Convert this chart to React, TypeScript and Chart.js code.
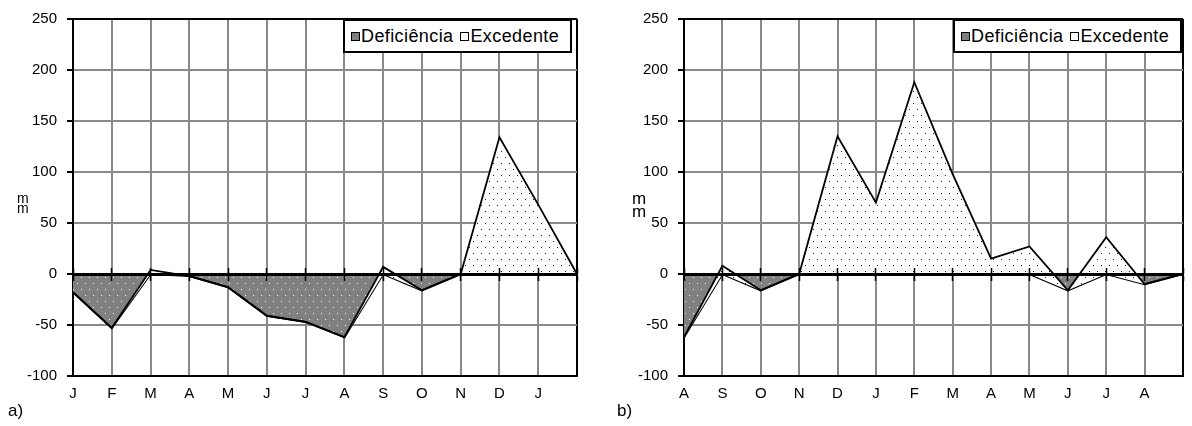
import React, { useEffect, useRef } from 'react';
import { Chart, registerables } from 'chart.js';

Chart.register(...registerables);

// Panel a) — calendar year
const monthsA = ['J', 'F', 'M', 'A', 'M', 'J', 'J', 'A', 'S', 'O', 'N', 'D', 'J', ''];
const deficitA = [-18, -53, 0, -2, -13, -41, -47, -62, 0, -16, 0, 0, 0, 0];
const surplusA = [0, 0, 4, 0, 0, 0, 0, 0, 7, 0, 0, 134, 68, 0];

// Panel b) — hydrological year
const monthsB = ['A', 'S', 'O', 'N', 'D', 'J', 'F', 'M', 'A', 'M', 'J', 'J', 'A', ''];
const deficitB = [-62, 0, -16, 0, 0, 0, 0, 0, 0, 0, -16, 0, -10, 0];
const surplusB = [0, 8, 0, 0, 135, 70, 188, 98, 15, 27, 0, 36, 0, 0];

const yMin = -100;
const yMax = 250;
const yStep = 50;

const seriesNames = ['Deficiência', 'Excedente'];

const FONT = "'Liberation Sans', Arial, Helvetica, sans-serif";
const GRID = '#8a8a8a';

function dotPattern(bg: string, dot: string): CanvasPattern | string {
  const c = document.createElement('canvas');
  c.width = 8;
  c.height = 12;
  const g = c.getContext('2d');
  if (!g) return bg;
  g.fillStyle = bg;
  g.fillRect(0, 0, 8, 12);
  g.fillStyle = dot;
  g.fillRect(1, 1, 1, 1);
  g.fillRect(5, 7, 1, 1);
  const p = g.createPattern(c, 'repeat');
  return p || bg;
}

type PanelProps = {
  left: number;
  labels: string[];
  deficit: number[];
  surplus: number[];
  axisWidth: number;
  rightPad: number;
};

function Panel({ left, labels, deficit, surplus, axisWidth, rightPad }: PanelProps) {
  const ref = useRef<HTMLCanvasElement | null>(null);

  useEffect(() => {
    const canvas = ref.current;
    if (!canvas) return;
    const last = labels.length - 1;
    // surplus is drawn stacked on top of the deficit curve (area chart style)
    const surplusTop = surplus.map((v, i) => v + deficit[i]);
    const chart = new Chart(canvas, {
      type: 'line',
      data: {
        labels,
        datasets: [
          {
            label: seriesNames[0],
            data: deficit,
            fill: 'origin',
            backgroundColor: dotPattern('#808080', '#ffffff') as any,
            borderColor: '#000',
            borderWidth: 2,
            pointRadius: 0,
            tension: 0,
            order: 1,
          },
          {
            label: seriesNames[1],
            data: surplusTop,
            fill: '-1',
            backgroundColor: dotPattern('#ffffff', '#1a1a1a') as any,
            borderColor: '#000',
            borderWidth: 1.8,
            pointRadius: 0,
            tension: 0,
            order: 0,
          },
        ],
      },
      options: {
        animation: false,
        responsive: false,
        maintainAspectRatio: false,
        layout: { padding: { top: 16, right: rightPad, left: 0, bottom: 0 } },
        plugins: { legend: { display: false }, tooltip: { enabled: false } },
        scales: {
          x: {
            type: 'category',
            axis: 'x',
            position: 'bottom',
            grid: {
              color: (c: any) => (c.index === last ? '#000' : GRID),
              lineWidth: 2,
              drawTicks: false,
            },
            border: { color: '#000', width: 2 },
            ticks: {
              autoSkip: false,
              maxRotation: 0,
              minRotation: 0,
              padding: 9,
              color: '#000',
              font: { family: FONT, size: 15 },
            },
            afterFit: (s: any) => {
              s.height = 50;
            },
          },
          y: {
            type: 'linear',
            axis: 'y',
            position: 'left',
            min: yMin,
            max: yMax,
            ticks: {
              stepSize: yStep,
              padding: 10,
              color: '#000',
              font: { family: FONT, size: 15 },
            },
            grid: {
              color: (c: any) => (c.tick && (c.tick.value === yMax || c.tick.value === yMin) ? '#000' : GRID),
              lineWidth: 2,
              tickLength: 6,
              tickColor: '#000',
            },
            border: { color: '#000', width: 2 },
            afterFit: (s: any) => {
              s.width = axisWidth;
            },
          },
          zeroDown: {
            type: 'category',
            axis: 'x',
            position: { y: 0 } as any,
            grid: { drawOnChartArea: false, drawTicks: true, tickLength: 5, tickColor: '#000', tickWidth: 1.5, z: 1 },
            border: { display: true, color: '#000', width: 3, z: 1 },
            ticks: { display: false },
          },
          zeroUp: {
            type: 'category',
            axis: 'x',
            position: { y: 0 } as any,
            grid: { drawOnChartArea: false, drawTicks: true, tickLength: -6, tickColor: '#000', tickWidth: 1.5, z: 1 },
            border: { display: false },
            ticks: { display: false },
          },
        } as any,
      },
    });
    return () => chart.destroy();
  }, []);

  return (
    <canvas
      ref={ref}
      width={596}
      height={426}
      style={{ position: 'absolute', left, top: 0, width: 596, height: 426 }}
    />
  );
}

function Legend({ left, width }: { left: number; width: number }) {
  const sw = (bg: string) => (
    <span
      style={{
        display: 'inline-block',
        width: 7,
        height: 7,
        border: '1.5px solid #000',
        background: bg,
        marginRight: 1,
        verticalAlign: -1,
      }}
    />
  );
  return (
    <div
      style={{
        position: 'absolute',
        left,
        top: 19,
        width,
        height: 34,
        boxSizing: 'border-box',
        border: '2px solid #000',
        background: '#fff',
        font: `18px ${FONT}`,
        letterSpacing: '0.4px',
        color: '#000',
        display: 'flex',
        alignItems: 'center',
        paddingLeft: 6,
        whiteSpace: 'nowrap',
      }}
    >
      {sw('#808080')}
      <span style={{ marginRight: 7 }}>{seriesNames[0]}</span>
      {sw('#fff')}
      <span>{seriesNames[1]}</span>
    </div>
  );
}

function UnitLabel({ left, top, size, gap }: { left: number; top: number; size: number; gap: number }) {
  return (
    <div
      style={{
        position: 'absolute',
        left,
        top,
        font: `${size}px ${FONT}`,
        lineHeight: `${gap}px`,
        color: '#000',
        textAlign: 'center',
      }}
    >
      m
      <br />m
    </div>
  );
}

function PanelTag({ left, text }: { left: number; text: string }) {
  return (
    <div style={{ position: 'absolute', left, top: 401, font: `17px ${FONT}`, color: '#000' }}>{text}</div>
  );
}

export default function App() {
  return (
    <div style={{ position: 'fixed', left: 0, top: 0, width: 1192, height: 426, background: '#fff', overflow: 'hidden' }}>
      <Panel left={0} labels={monthsA} deficit={deficitA} surplus={surplusA} axisWidth={73} rightPad={19} />
      <Panel left={596} labels={monthsB} deficit={deficitB} surplus={surplusB} axisWidth={88} rightPad={5} />
      <Legend left={343} width={229} />
      <Legend left={953} width={229} />
      <UnitLabel left={17} top={193} size={14} gap={10} />
      <UnitLabel left={632} top={192} size={17} gap={13} />
      <PanelTag left={8} text="a)" />
      <PanelTag left={617} text="b)" />
    </div>
  );
}
